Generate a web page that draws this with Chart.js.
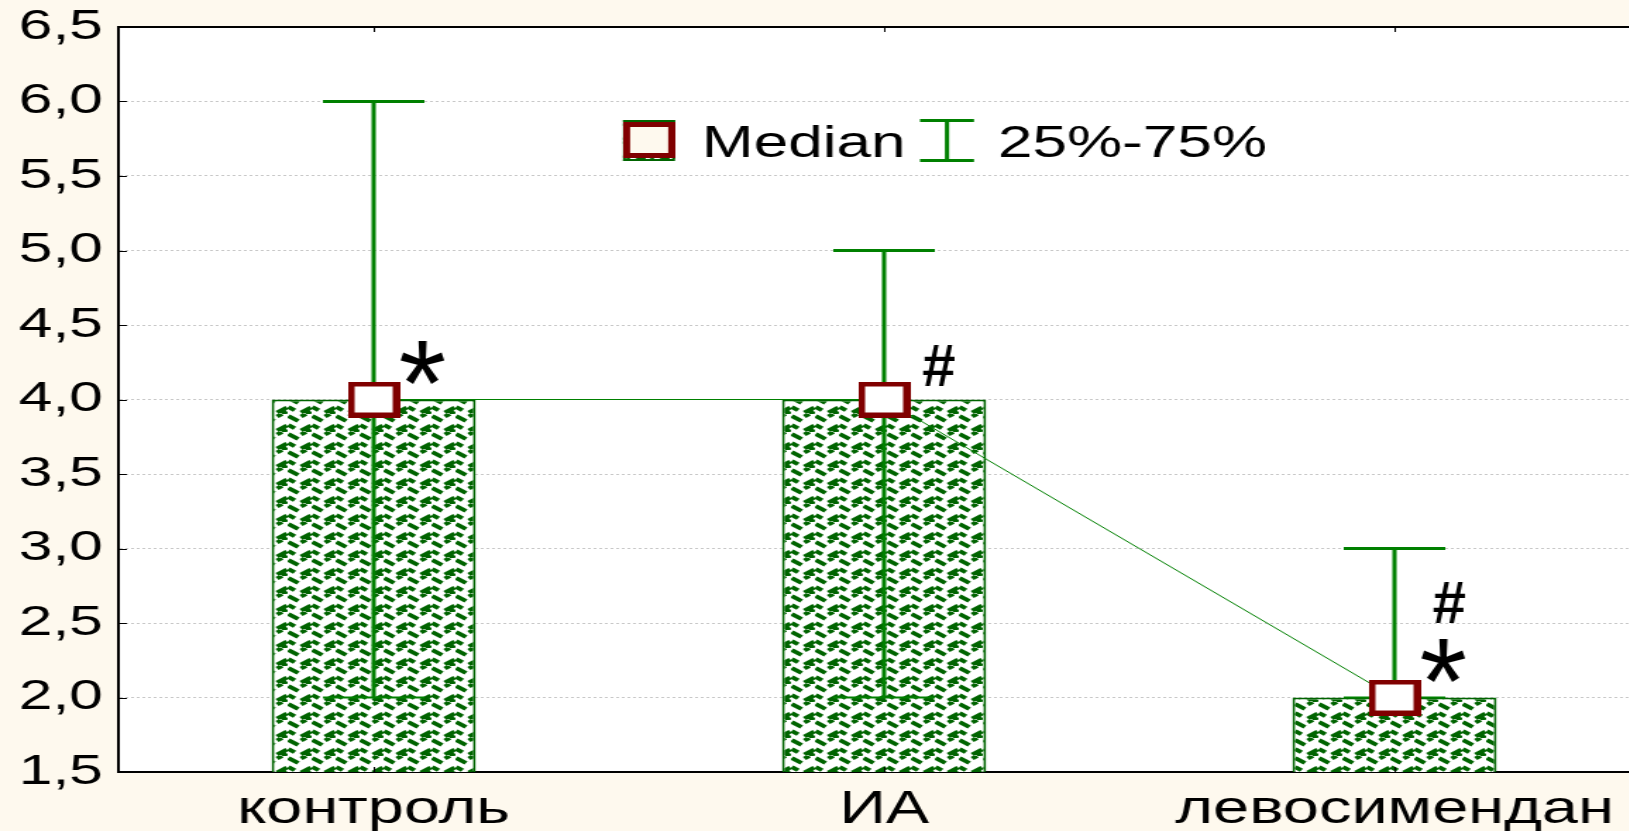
<!DOCTYPE html>
<html>
<head>
<meta charset="utf-8">
<script src="https://cdn.jsdelivr.net/npm/chart.js@4"></script>
<style>
    html, body { margin: 0; padding: 0; overflow: hidden; background: #fef9ee; }
    /* the original picture is stretched horizontally, so the whole canvas is too */
    #wrap { width: 1181px; height: 831px; transform: scaleX(1.41); transform-origin: 0 0; }
</style>
</head>
<body>
<div id="wrap"><canvas id="chart" width="1181" height="831"></canvas></div>
<script>
const categories = ["контроль", "ИА", "левосимендан"];
const medians = [4, 4, 2];
const q25 = [2, 2, 2];
const q75 = [6, 5, 3];
const marks = [["*"], ["#"], ["#", "*"]];
const yTicks = [1.5, 2.0, 2.5, 3.0, 3.5, 4.0, 4.5, 5.0, 5.5, 6.0, 6.5];
const yTickLabels = ["1,5", "2,0", "2,5", "3,0", "3,5", "4,0", "4,5", "5,0", "5,5", "6,0", "6,5"];
const legendLabels = ["Median", "25%-75%"];

const SX = 1.41;
const FONT = "'Liberation Sans', Arial, sans-serif";
const green = "#008000";
const darkGreen = "#006400";
const darkRed = "#800000";

// bar fill pattern (herringbone-like dashes)
function makePattern() {
    const c = document.createElement("canvas");
    c.width = 17;
    c.height = 18;
    const g = c.getContext("2d");
    g.fillStyle = "#fff";
    g.fillRect(0, 0, 17, 18);
    g.strokeStyle = darkGreen;
    g.lineWidth = 3.8;
    g.lineCap = "butt";
    g.beginPath();
    g.moveTo(0.5, 2); g.lineTo(7.5, 7);
    g.moveTo(9.5, 16.5); g.lineTo(16.5, 11.5);
    g.moveTo(9.5, 2.5); g.lineTo(13, 0);
    g.moveTo(13, 18); g.lineTo(16.5, 15.5);
    g.moveTo(0.5, 11); g.lineTo(5, 14.2);
    g.stroke();
    return g.createPattern(c, "repeat");
}

function makeMedianBox(fill) {
    const c = document.createElement("canvas");
    c.width = 37;
    c.height = 36;
    const g = c.getContext("2d");
    g.fillStyle = darkRed;
    g.fillRect(0, 0, 37, 36);
    g.fillStyle = fill;
    g.fillRect(5, 5, 27, 26);
    return c;
}

const medianBox = makeMedianBox("#fff");
const legendBox = makeMedianBox("#fef9ee");

const extras = {
    id: "extras",
    beforeDraw(chart) {
        const { ctx, chartArea: a } = chart;
        ctx.save();
        ctx.fillStyle = "#fff";
        ctx.fillRect(a.left, a.top, a.right - a.left, a.bottom - a.top);
        ctx.restore();
    },
    afterDatasetDraw(chart, args) {
        if (args.index !== 0) return;
        // 25%-75% whiskers over the bars
        const { ctx } = chart;
        const x = chart.scales.x, y = chart.scales.y;
        ctx.save();
        ctx.strokeStyle = green;
        medians.forEach((m, i) => {
            const px = x.getPixelForValue(i);
            const top = y.getPixelForValue(q75[i]);
            const bot = y.getPixelForValue(q25[i]);
            ctx.lineWidth = 3;
            ctx.beginPath();
            ctx.moveTo(px, top); ctx.lineTo(px, bot);
            ctx.moveTo(px - 36, top); ctx.lineTo(px + 36, top);
            ctx.stroke();
            ctx.lineWidth = 2;
            ctx.beginPath();
            ctx.moveTo(px - 36, bot); ctx.lineTo(px + 36, bot);
            ctx.stroke();
        });
        ctx.restore();
    },
    afterDraw(chart) {
        const { ctx, chartArea: a } = chart;
        const x = chart.scales.x, y = chart.scales.y;
        ctx.save();

        // frame and small tick marks
        ctx.strokeStyle = "#000";
        ctx.lineWidth = 2;
        ctx.beginPath();
        ctx.moveTo(a.left, a.top); ctx.lineTo(a.right, a.top);
        ctx.stroke();
        ctx.lineWidth = 1;
        ctx.beginPath();
        yTicks.forEach((v) => {
            const py = Math.round(y.getPixelForValue(v)) + 0.5;
            ctx.moveTo(a.left, py); ctx.lineTo(a.left + 6, py);
        });
        categories.forEach((c, i) => {
            const px = Math.round(x.getPixelForValue(i)) + 0.5;
            ctx.moveTo(px, a.top); ctx.lineTo(px, a.top + 5);
            ctx.moveTo(px, a.bottom); ctx.lineTo(px, a.bottom - 5);
        });
        ctx.stroke();

        // legend
        ctx.fillStyle = chart.data.datasets[0].backgroundColor;
        ctx.fillRect(623 / SX, 120, 52 / SX, 41);
        ctx.strokeStyle = darkGreen;
        ctx.lineWidth = 2;
        ctx.strokeRect(623 / SX + 1, 121, 52 / SX - 2, 39);
        ctx.drawImage(legendBox, 623 / SX, 122);
        ctx.strokeStyle = green;
        ctx.lineWidth = 3;
        const l0 = 920 / SX, l1 = 974 / SX;
        ctx.beginPath();
        ctx.moveTo(l0, 120.5); ctx.lineTo(l1, 120.5);
        ctx.moveTo(l0, 160.5); ctx.lineTo(l1, 160.5);
        ctx.moveTo((l0 + l1) / 2, 120.5); ctx.lineTo((l0 + l1) / 2, 160.5);
        ctx.stroke();
        ctx.fillStyle = "#000";
        ctx.font = "44px " + FONT;
        ctx.textBaseline = "alphabetic";
        ctx.textAlign = "left";
        ctx.fillText(legendLabels[0], 702 / SX, 157);
        ctx.fillText(legendLabels[1], 998 / SX, 157);

        // significance marks, drawn unstretched next to each median
        marks.forEach((list, i) => {
            const px = x.getPixelForValue(i);
            const py = y.getPixelForValue(medians[i]);
            list.slice().reverse().forEach((m, k) => {
                ctx.save();
                ctx.translate(px, py);
                ctx.scale(1 / SX, 1);
                if (m === "*") {
                    const inkTop = -62 - 61 * k;
                    ctx.font = "122px " + FONT;
                    ctx.fillText(m, 25, inkTop + 0.716 * 122);
                } else {
                    const inkTop = -56 - 61 * k;
                    ctx.font = "bold 60px " + FONT;
                    ctx.fillText(m, 38, inkTop + 0.716 * 60);
                }
                ctx.restore();
            });
        });
        ctx.restore();
    },
};

new Chart(document.getElementById("chart"), {
    type: "bar",
    data: {
        labels: categories,
        datasets: [
            {
                type: "bar",
                data: medians,
                backgroundColor: makePattern(),
                borderColor: darkGreen,
                borderWidth: 2,
                borderSkipped: "bottom",
                barPercentage: 0.4,
                categoryPercentage: 1,
                order: 1,
            },
            {
                type: "line",
                data: medians,
                borderColor: green,
                borderWidth: 1,
                pointStyle: medianBox,
                pointRadius: 10,
                fill: false,
                order: 0,
            },
        ],
    },
    options: {
        responsive: false,
        animation: false,
        devicePixelRatio: 1,
        events: [],
        layout: { padding: { top: 27, right: 3, left: 0, bottom: 0 } },
        plugins: {
            legend: { display: false },
            tooltip: { enabled: false },
        },
        scales: {
            x: {
                grid: { display: false, drawTicks: false },
                border: { display: true, color: "#000", width: 2 },
                ticks: {
                    color: "#000",
                    font: { family: FONT, size: 46 },
                    padding: 11,
                },
                afterFit(scale) {
                    scale.height = 59;
                    scale.paddingLeft = 0;
                    scale.paddingRight = 0;
                },
            },
            y: {
                min: 1.5,
                max: 6.5,
                afterBuildTicks(scale) {
                    scale.ticks = yTicks.map((v) => ({ value: v }));
                },
                grid: { color: "#c8c8c8", lineWidth: 1, drawTicks: false },
                border: { display: true, color: "#000", width: 2, dash: [2, 2] },
                ticks: {
                    color: "#000",
                    font: { family: FONT, size: 43 },
                    padding: 11,
                    callback: (v, i) => yTickLabels[i],
                },
                afterFit(scale) {
                    scale.width = 84;
                    scale.paddingTop = 0;
                    scale.paddingBottom = 0;
                },
            },
        },
    },
    plugins: [extras],
});
</script>
</body>
</html>
